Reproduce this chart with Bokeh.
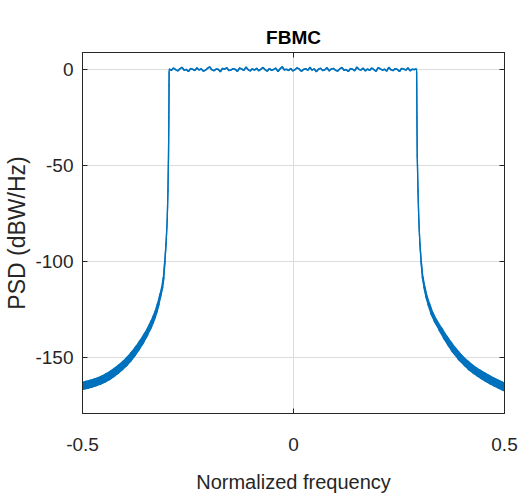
import numpy as np
from bokeh.plotting import figure
from bokeh.models import Range1d, LinearAxis, FixedTicker, CustomJSTickFormatter
from bokeh.embed import file_html
from bokeh.resources import INLINE

# ---------------- data ----------------
title_text = "FBMC"
x_label = "Normalized frequency"
y_label = "PSD (dBW/Hz)"
x_ticks = [-0.5, 0.0, 0.5]
x_tick_labels = ["-0.5", "0", "0.5"]
y_ticks = [-150, -100, -50, 0]
y_tick_labels = ["-150", "-100", "-50", "0"]

left_f = [-0.500, -0.490, -0.480, -0.470, -0.460, -0.450, -0.440, -0.430, -0.420, -0.410,
          -0.400, -0.390, -0.380, -0.370, -0.360, -0.350, -0.340, -0.335, -0.330, -0.325,
          -0.3207, -0.3150, -0.3112, -0.3080, -0.3049, -0.3020, -0.2993, -0.2975, -0.2962,
          -0.2954, -0.2949, -0.2947]
left_psd = [-164.6, -164.1, -163.5, -162.8, -162.0, -161.0, -159.8, -158.4, -156.8, -155.0,
            -153.0, -150.7, -148.0, -145.0, -141.7, -138.0, -133.8, -131.3, -128.6, -125.5,
            -122.1, -117.0, -113.4, -108.5, -100.0, -90.5, -78.6, -63.0, -45.0,
            -25.0, -8.0, -1.0]

right_f = [0.2917, 0.2920, 0.2925, 0.2933, 0.2950, 0.2970, 0.2995, 0.3025, 0.3060, 0.3104,
           0.3150, 0.3207, 0.3280, 0.3365, 0.3480, 0.3600, 0.3700, 0.3800, 0.3957, 0.4100,
           0.4200, 0.4310, 0.4400, 0.4500, 0.4600, 0.4700, 0.4800, 0.4900, 0.5000]
right_psd = [-1.0, -8.0, -25.0, -45.0, -63.0, -78.6, -90.5, -100.0, -108.0, -113.4,
             -118.0, -122.1, -126.8, -130.7, -135.0, -139.4, -142.7, -145.8, -150.0, -153.0,
             -155.0, -156.8, -158.1, -159.5, -160.8, -162.0, -163.1, -164.2, -165.3]

band_start = -0.2945
band_stop = 0.2915
band_psd = [0.4, -0.3, 0.9, 0.1, -0.6, 0.5, 1.3, -0.2, 0.2, -0.9, 0.6, 0.3, -0.4, 1.0, -0.1,
            0.5, -0.7, -0.2, 0.8, 1.5, 0.0, -0.5, 0.4, 0.2, -1.0, 0.7, 0.3, 1.1, -0.4, -0.1,
            0.6, 0.2, -0.8, 0.9, 0.4, -0.3, 1.4, 0.1, -0.6, 0.5, -0.2, 0.8, -0.5, 0.3, 1.2,
            0.0, -0.7, 0.6, -0.3, 0.2, 0.9, -0.9, 0.5, 1.6, -0.1, 0.3, -0.4, 0.7, -0.6, 0.1,
            1.0, 0.4, -0.8, 0.2, 0.6, -0.3, 1.3, -0.2, 0.5, -1.0, 0.3, 0.8, -0.4, 0.0, 1.1,
            -0.6, 0.4, 0.7, -0.2, -0.7, 0.5, 1.2, -0.3, 0.1, -0.9, 0.6, 0.3, -0.5, 1.4, 0.2,
            -0.1, 0.8, -0.6, 0.4, -0.3, 0.9, 0.1, -0.8, 1.1, 0.5, -0.2, 0.3, -0.7, 1.3, 0.0,
            -0.4, 0.6, 0.2, -0.9, 0.7, 0.4, -0.2, 1.0, -0.5, 0.3, 0.1, 0.5]
band_f = list(np.linspace(band_start, band_stop, len(band_psd)))

# ---------------- styling ----------------
BLUE = "#0072BD"
AX = "#262626"
GRID = "#dcdcdc"
SANS = "Liberation Sans"

p = figure(width=523, height=497, output_backend="svg", toolbar_location=None,
           x_range=Range1d(-0.5, 0.5), y_range=Range1d(-179, 9),
           min_border_left=82, min_border_right=19, min_border_top=52, min_border_bottom=84)

p.background_fill_color = "white"
p.border_fill_color = "white"
p.outline_line_color = AX
p.outline_line_width = 1

p.title.text = title_text
p.title.align = "center"
p.title.text_font = SANS
p.title.text_font_style = "bold"
p.title.text_font_size = "19px"
p.title.text_color = "#000000"

# full thin curve
all_f = left_f + band_f + right_f
all_psd = left_psd + band_psd + right_psd
p.line(all_f, all_psd, line_color=BLUE, line_width=1.3)

# thicker segments for the dense noisy skirts (width grows with depth)
w_at = [-170, -160, -150, -135, -120, -105, -90]
w_val = [9.0, 8.0, 6.5, 4.5, 2.8, 1.8, 1.3]
xs, ys, ws = [], [], []
for f_arr, v_arr in ((left_f, left_psd), (right_f, right_psd)):
    for i in range(len(f_arr) - 1):
        xs.append([f_arr[i], f_arr[i + 1]])
        ys.append([v_arr[i], v_arr[i + 1]])
        ws.append(float(np.interp(0.5 * (v_arr[i] + v_arr[i + 1]), w_at, w_val)))
p.multi_line(xs=xs, ys=ys, line_width=ws, line_color=BLUE, line_cap="round", line_join="round")

# flat noisy band a bit thicker
p.line(band_f, band_psd, line_color=BLUE, line_width=1.6)

# axes
for ax in (p.xaxis[0], p.yaxis[0]):
    ax.axis_line_color = AX
    ax.major_tick_line_color = AX
    ax.major_tick_in = 5
    ax.major_tick_out = 0
    ax.minor_tick_line_color = None
    ax.major_label_text_font = SANS
    ax.major_label_text_font_size = "19px"
    ax.major_label_text_color = AX

p.xaxis[0].ticker = FixedTicker(ticks=x_ticks)
p.xaxis[0].major_label_overrides = {t: l for t, l in zip(x_ticks, x_tick_labels)}
p.yaxis[0].ticker = FixedTicker(ticks=y_ticks)
p.yaxis[0].major_label_overrides = {t: l for t, l in zip(y_ticks, y_tick_labels)}

p.xaxis[0].axis_label = x_label
p.xaxis[0].axis_label_text_font = SANS
p.xaxis[0].axis_label_text_font_size = "20px"
p.xaxis[0].axis_label_text_font_style = "normal"
p.xaxis[0].axis_label_text_color = AX
p.xaxis[0].major_label_standoff = 24
p.xaxis[0].axis_label_standoff = 17

p.yaxis[0].axis_label = y_label
p.yaxis[0].axis_label_text_font = SANS
p.yaxis[0].axis_label_text_font_size = "23px"
p.yaxis[0].axis_label_text_font_style = "normal"
p.yaxis[0].axis_label_text_color = AX
p.yaxis[0].major_label_standoff = 9
p.yaxis[0].axis_label_standoff = 2

# box ticks on top and right (no labels)
blank = CustomJSTickFormatter(code="return '';")
top_ax = LinearAxis(ticker=FixedTicker(ticks=x_ticks), formatter=blank,
                    major_tick_in=5, major_tick_out=0, minor_tick_line_color=None,
                    axis_line_color=AX, major_tick_line_color=AX, major_label_standoff=0)
right_ax = LinearAxis(ticker=FixedTicker(ticks=y_ticks), formatter=blank,
                      major_tick_in=5, major_tick_out=0, minor_tick_line_color=None,
                      axis_line_color=AX, major_tick_line_color=AX, major_label_standoff=0)
p.add_layout(top_ax, "above")
p.add_layout(right_ax, "right")

p.xgrid.ticker = FixedTicker(ticks=x_ticks)
p.ygrid.ticker = FixedTicker(ticks=y_ticks)
p.grid.grid_line_color = GRID
p.grid.grid_line_width = 1

open("out.html", "w").write(file_html(p, INLINE))
